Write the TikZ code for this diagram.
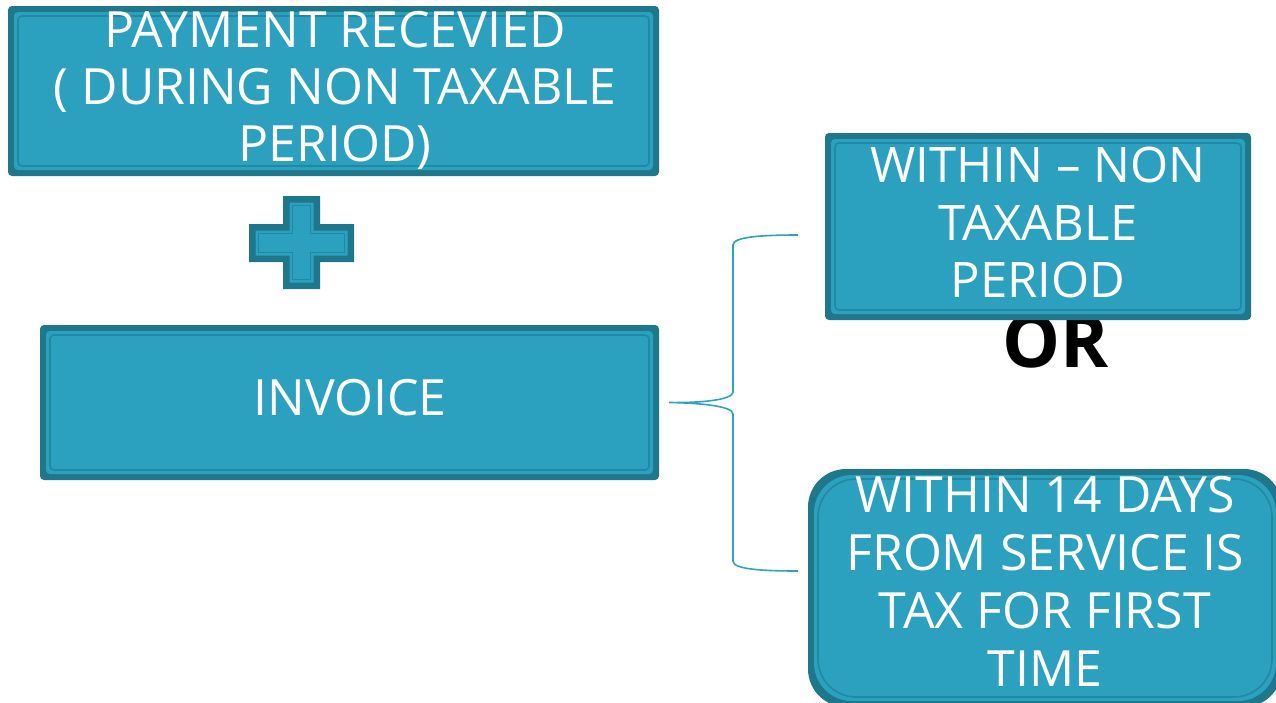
\documentclass[tikz,border=0pt]{standalone}
\usepackage{fontspec}
\setmainfont{Open Sans}
\definecolor{tealfill}{HTML}{2CA1BF}
\definecolor{tealdark}{HTML}{1F778B}
\definecolor{tealline}{HTML}{2388A2}
\definecolor{bracecol}{HTML}{2EA3C1}
\tikzset{
  % layered teal panel: dark rim, light body, thin inner frame
  panel/.style={fill=tealdark, rounded corners=#1, inner sep=0pt, draw=none,
    path picture={
      \fill[tealfill, rounded corners=#1]
        ([shift={(6pt,-6pt)}]path picture bounding box.north west) rectangle
        ([shift={(-6pt,6pt)}]path picture bounding box.south east);
      \draw[tealline, line width=1.6pt, rounded corners=#1]
        ([shift={(10pt,-10pt)}]path picture bounding box.north west) rectangle
        ([shift={(-10pt,10pt)}]path picture bounding box.south east);
    }},
  panel/.default=4pt,
  paneltext/.style={text=white, align=center, inner sep=0pt},
  brace/.style={draw=bracecol, line width=1.6pt},
}
\begin{document}
\begin{tikzpicture}[x=1pt, y=-1pt]
  \useasboundingbox (0,0) rectangle (1276,702);
  \clip (0,0) rectangle (1276,702);

  % word between the two options, partly hidden under the upper panel
  \node[font=\fontsize{73}{80}\selectfont\bfseries, anchor=base, inner sep=0pt] (or) at (1056,367) {OR};

  % panels
  \node[panel, minimum width=651pt, minimum height=170pt] (pay) at (333.5,91) {};
  \node[panel, minimum width=619pt, minimum height=155pt] (inv) at (349.5,402.5) {};
  \node[panel, minimum width=426pt, minimum height=187pt] (nontax) at (1038,226.5) {};
  \node[panel=38pt, minimum width=474pt, minimum height=238pt] (first) at (1045,588) {};

  % plus sign
  \begin{scope}[shift={(301.5,242.5)}]
    \fill[tealdark] (-18.5,-46.5) -- (18.5,-46.5) -- (18.5,-18.5) -- (52.5,-18.5) -- (52.5,19.5)
      -- (18.5,19.5) -- (18.5,46.5) -- (-18.5,46.5) -- (-18.5,19.5) -- (-52.5,19.5)
      -- (-52.5,-18.5) -- (-18.5,-18.5) -- cycle;
    \fill[tealfill] (-12,-40) -- (12,-40) -- (12,-12) -- (46,-12) -- (46,13)
      -- (12,13) -- (12,40) -- (-12,40) -- (-12,13) -- (-46,13)
      -- (-46,-12) -- (-12,-12) -- cycle;
    \draw[tealline, line width=1.6pt] (-9,-37) -- (9,-37) -- (9,-9) -- (43,-9) -- (43,10)
      -- (9,10) -- (9,37) -- (-9,37) -- (-9,10) -- (-43,10)
      -- (-43,-9) -- (-9,-9) -- cycle;
  \end{scope}

  % panel texts
  \node[paneltext, font=\fontsize{50}{57}\selectfont] (payTxt) at (335,90)
    {PAYMENT RECEVIED\\( DURING NON TAXABLE\\PERIOD)};
  \node[paneltext, font=\fontsize{50}{57}\selectfont] (invTxt) at (350,398) {INVOICE};
  \node[paneltext, font=\fontsize{49}{57.5}\selectfont] (nontaxTxt) at (1038,222.5)
    {WITHIN – NON\\TAXABLE\\PERIOD};
  \node[paneltext, font=\fontsize{50}{58}\selectfont] (firstTxt) at (1045,581)
    {WITHIN 14 DAYS\\FROM SERVICE IS\\TAX FOR FIRST\\TIME};

  % curly brace from the invoice to both options
  \coordinate (tip) at ([xshift=10pt]inv.east);
  \coordinate (upEnd) at (798,235);
  \coordinate (lowEnd) at (798,571);
  \draw[brace] (upEnd) .. controls (760,235) and (733,237) .. (733,245)
    -- (733,392) .. controls (733,400) and (700,403) .. (tip)
    .. controls (700,403) and (733,406) .. (733,414)
    -- (733,561) .. controls (733,569) and (760,571) .. (lowEnd);
\end{tikzpicture}
\end{document}
